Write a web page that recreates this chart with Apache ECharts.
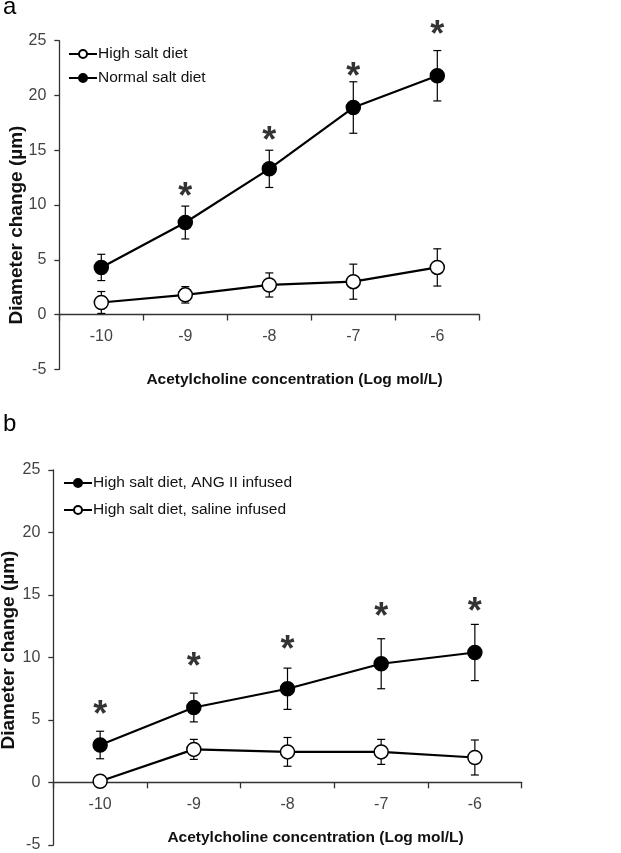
<!DOCTYPE html>
<html>
<head>
<meta charset="utf-8">
<script src="https://cdn.jsdelivr.net/npm/echarts@6/dist/echarts.min.js"></script>
<style>html,body{margin:0;padding:0;background:#fff}#c{width:621px;height:853px}</style>
</head>
<body>
<div id="c"></div>
<script>
// ---- data ----
const categories = ['-10', '-9', '-8', '-7', '-6'];
const yTicks = [-5, 0, 5, 10, 15, 20, 25];

// panel a
const aNormalName = 'Normal salt diet';
const aNormal = [4.3, 8.4, 13.3, 18.9, 21.8];
const aNormalErr = [1.2, 1.5, 1.7, 2.35, 2.3];
const aHighName = 'High salt diet';
const aHigh = [1.1, 1.8, 2.7, 3.0, 4.3];
const aHighErr = [1.0, 0.75, 1.1, 1.6, 1.7];
const aStars = [null, 11.3, 16.4, 22.2, 26.1];

// panel b
const bAngName = 'High salt diet, ANG II infused';
const bAng = [3.0, 6.0, 7.5, 9.5, 10.4];
const bAngErr = [1.1, 1.15, 1.65, 2.0, 2.25];
const bSalineName = 'High salt diet, saline infused';
const bSaline = [0.1, 2.65, 2.45, 2.45, 2.0];
const bSalineErr = [0, 0.8, 1.15, 1.0, 1.4];
const bStars = [5.85, 9.7, 11.1, 13.7, 14.1];

const xTitle = 'Acetylcholine concentration (Log mol/L)';
const yTitle = 'Diameter change (\u00b5m)';

// ---- helpers ----
const FONT = "'Liberation Sans', Arial, sans-serif";
const yMin = yTicks[0], yMax = yTicks[yTicks.length - 1];

function errData(vals, errs) {
  return vals.map((v, i) => [i, v - errs[i], v + errs[i]]);
}
function errRender(params, api) {
  const x = api.value(0);
  const lo = api.coord([x, api.value(1)]);
  const hi = api.coord([x, api.value(2)]);
  const hw = 4;
  const st = { stroke: '#000', lineWidth: 1.2 };
  return {
    type: 'group',
    children: [
      { type: 'line', shape: { x1: lo[0], y1: lo[1], x2: hi[0], y2: hi[1] }, style: st },
      { type: 'line', shape: { x1: lo[0] - hw, y1: lo[1], x2: lo[0] + hw, y2: lo[1] }, style: st },
      { type: 'line', shape: { x1: hi[0] - hw, y1: hi[1], x2: hi[0] + hw, y2: hi[1] }, style: st }
    ]
  };
}
function lineSeries(name, data, filled, idx) {
  return {
    name: name, type: 'line', data: data, xAxisIndex: idx, yAxisIndex: idx,
    symbol: 'circle', symbolSize: 14, z: 5,
    lineStyle: { color: '#000', width: 2.2 },
    itemStyle: { color: filled ? '#000' : '#fff', borderColor: '#000', borderWidth: 1.5 },
    emphasis: { disabled: true }, animation: false
  };
}
function errSeries(vals, errs, idx) {
  return {
    type: 'custom', xAxisIndex: idx, yAxisIndex: idx, z: 3,
    data: errData(vals, errs), renderItem: errRender, animation: false, silent: true
  };
}
function starSeries(vals, idx) {
  return {
    type: 'scatter', xAxisIndex: idx, yAxisIndex: idx, z: 6, silent: true, clip: false,
    data: vals.map((v, i) => v == null ? null : [i, v]),
    symbolSize: 1, itemStyle: { color: 'rgba(0,0,0,0)' },
    label: {
      show: true, position: 'inside', formatter: '*', offset: [0, 7],
      fontSize: 36, fontWeight: 'bold', color: '#000', fontFamily: FONT,
      textBorderWidth: 0
    },
    animation: false
  };
}
function xAxisCfg(idx, gridHeight) {
  return {
    type: 'category', gridIndex: idx, data: categories,
    offset: -gridHeight * (0 - yMin) / (yMax - yMin),
    axisLine: { onZero: false, lineStyle: { color: '#333', width: 1.3 } },
    axisTick: { show: true, length: 6, lineStyle: { color: '#333', width: 1.3 } },
    axisLabel: { margin: 14, fontSize: 16, color: '#444', fontFamily: FONT },
    splitLine: { show: false }
  };
}
function yAxisCfg(idx) {
  return {
    type: 'value', gridIndex: idx, min: yMin, max: yMax, interval: 5,
    axisLine: { show: true, lineStyle: { color: '#333', width: 1.3 } },
    axisTick: { show: true, length: 5, lineStyle: { color: '#333', width: 1.3 } },
    axisLabel: { margin: 13, fontSize: 16, color: '#444', fontFamily: FONT },
    splitLine: { show: false }
  };
}

const gA = { left: 59.3, top: 40.7, width: 420, height: 328.6 };
const gB = { left: 53.3, top: 470, width: 468.4, height: 376 };

const chart = echarts.init(document.getElementById('c'), null, { renderer: 'canvas' });
chart.setOption({
  backgroundColor: '#fff',
  animation: false,
  grid: [gA, gB],
  xAxis: [xAxisCfg(0, gA.height), xAxisCfg(1, gB.height)],
  yAxis: [yAxisCfg(0), yAxisCfg(1)],
  legend: [
    {
      data: [aHighName, aNormalName], orient: 'vertical', left: 63, top: 41,
      itemWidth: 28, itemHeight: 10, itemGap: 8, selectedMode: false,
      textStyle: { fontSize: 15.5, color: '#111', fontFamily: FONT, padding: [0, 0, 0, -4] }
    },
    {
      data: [bAngName, bSalineName], orient: 'vertical', left: 58, top: 470,
      itemWidth: 28, itemHeight: 10, itemGap: 11, selectedMode: false,
      textStyle: { fontSize: 15.5, color: '#111', fontFamily: FONT, padding: [0, 0, 0, -4] }
    }
  ],
  series: [
    errSeries(aNormal, aNormalErr, 0),
    errSeries(aHigh, aHighErr, 0),
    lineSeries(aHighName, aHigh, false, 0),
    lineSeries(aNormalName, aNormal, true, 0),
    starSeries(aStars, 0),
    errSeries(bAng, bAngErr, 1),
    errSeries(bSaline, bSalineErr, 1),
    lineSeries(bAngName, bAng, true, 1),
    lineSeries(bSalineName, bSaline, false, 1),
    starSeries(bStars, 1)
  ],
  graphic: [
    { type: 'text', left: 3, top: -5, style: { text: 'a', fontSize: 24, fill: '#000', fontFamily: FONT } },
    { type: 'text', left: 3, top: 412, style: { text: 'b', fontSize: 24, fill: '#000', fontFamily: FONT } },
    { type: 'text', x: 294.5, y: 380, style: { text: xTitle, fontSize: 15.5, fontWeight: 'bold', fill: '#111', fontFamily: FONT, align: 'center', verticalAlign: 'middle' } },
    { type: 'text', x: 315.5, y: 838, style: { text: xTitle, fontSize: 15.5, fontWeight: 'bold', fill: '#111', fontFamily: FONT, align: 'center', verticalAlign: 'middle' } },
    { type: 'text', x: 17, y: 225, rotation: Math.PI / 2, style: { text: yTitle, fontSize: 19, fontWeight: 'bold', fill: '#111', fontFamily: FONT, align: 'center', verticalAlign: 'middle' } },
    { type: 'text', x: 9, y: 650, rotation: Math.PI / 2, style: { text: yTitle, fontSize: 19, fontWeight: 'bold', fill: '#111', fontFamily: FONT, align: 'center', verticalAlign: 'middle' } }
  ]
});
</script>
</body>
</html>
